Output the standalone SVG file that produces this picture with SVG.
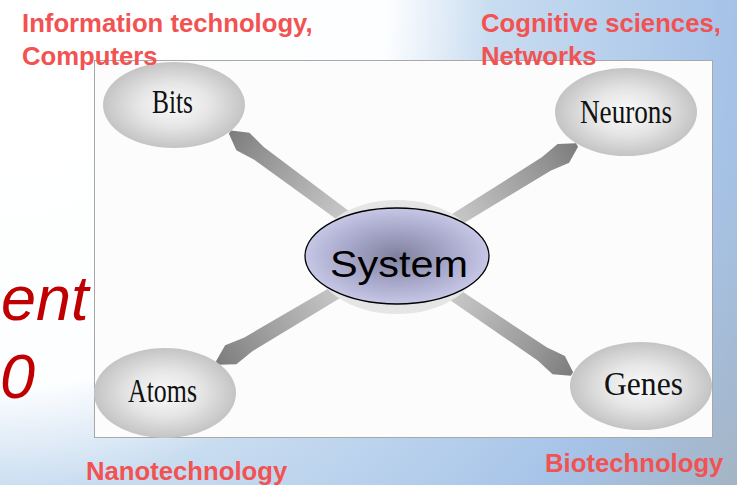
<svg xmlns="http://www.w3.org/2000/svg" width="737" height="485" viewBox="0 0 737 485">
<defs>
<radialGradient id="bg" gradientUnits="userSpaceOnUse" cx="0" cy="0" r="880">
<stop offset="0" stop-color="#ffffff"/>
<stop offset="0.44" stop-color="#fdfeff"/>
<stop offset="0.56" stop-color="#c8dcf0"/>
<stop offset="0.83" stop-color="#a6c3e8"/>
<stop offset="1" stop-color="#a4b4c4"/>
</radialGradient>
<radialGradient id="node" cx="0.5" cy="0.5" r="0.5">
<stop offset="0" stop-color="#fafafa"/>
<stop offset="0.5" stop-color="#e6e6e6"/>
<stop offset="1" stop-color="#c4c4c4"/>
</radialGradient>
<radialGradient id="sys" cx="0.5" cy="0.5" r="0.5">
<stop offset="0" stop-color="#80809e"/>
<stop offset="0.6" stop-color="#aaaacc"/>
<stop offset="1" stop-color="#c6c6e6"/>
</radialGradient>
<radialGradient id="shadow" cx="0.5" cy="0.5" r="0.5">
<stop offset="0" stop-color="#d8d8d8"/>
<stop offset="1" stop-color="#e6e6e6"/>
</radialGradient>
<linearGradient id="arr" x1="0" y1="0" x2="1" y2="0">
<stop offset="0" stop-color="#7c7c7c"/>
<stop offset="0.2" stop-color="#949494"/>
<stop offset="1" stop-color="#e2e2e2"/>
</linearGradient>
<path id="arrow" d="M0,-2 L16,-11 L36,-8 L195,-6.5 L195,6.5 L36,8 L16,11 L0,2 Z" fill="url(#arr)"/>
</defs>
<style>
.lab{font-family:"Liberation Sans",Arial,sans-serif;font-weight:bold;font-size:25.7px;fill:#f25252}
.big{font-family:"Liberation Sans",Arial,sans-serif;font-style:italic;font-size:63px;fill:#c00000}
.nt{font-family:"Liberation Serif","Times New Roman",serif;font-size:34px;fill:#111}
.st{font-family:"Liberation Sans",Arial,sans-serif;font-size:37px;fill:#000}
</style>
<rect x="0" y="0" width="737" height="485" fill="url(#bg)"/>
<text class="big" x="1" y="320">ent</text>
<text class="big" x="0" y="398">0</text>
<rect x="94.5" y="60.5" width="618" height="377" fill="#fcfcfc" stroke="#a8a8a8" stroke-width="1"/>
<g id="connectors">
<use href="#arrow" transform="translate(230,132) rotate(36.4)"/>
<use href="#arrow" transform="translate(577,145) rotate(148.3)"/>
<use href="#arrow" transform="translate(217,363) rotate(-30.7)"/>
<use href="#arrow" transform="translate(572,374) rotate(-146)"/>
</g>
<g id="system">
<ellipse cx="397" cy="257" rx="84" ry="57" fill="url(#shadow)"/>
<ellipse cx="397" cy="256" rx="92" ry="48" fill="url(#sys)" stroke="#000" stroke-width="1.3"/>
<text class="st" x="399" y="277" text-anchor="middle" textLength="138" lengthAdjust="spacingAndGlyphs">System</text>
</g>
<g id="bits">
<ellipse cx="174" cy="105" rx="71" ry="43" fill="url(#node)"/>
<text class="nt" x="152" y="113" textLength="41" lengthAdjust="spacingAndGlyphs">Bits</text>
</g>
<g id="neurons">
<ellipse cx="626" cy="112" rx="71" ry="44" fill="url(#node)"/>
<text class="nt" x="580" y="123" textLength="92" lengthAdjust="spacingAndGlyphs">Neurons</text>
</g>
<g id="atoms">
<ellipse cx="165" cy="393" rx="71" ry="45" fill="url(#node)"/>
<text class="nt" x="128" y="402" textLength="69" lengthAdjust="spacingAndGlyphs">Atoms</text>
</g>
<g id="genes">
<ellipse cx="641" cy="386" rx="71" ry="44" fill="url(#node)"/>
<text class="nt" x="604" y="395" textLength="79" lengthAdjust="spacingAndGlyphs">Genes</text>
</g>
<text class="lab" x="22" y="32">Information technology,</text>
<text class="lab" x="22" y="65">Computers</text>
<text class="lab" x="481" y="32">Cognitive sciences,</text>
<text class="lab" x="481" y="65">Networks</text>
<text class="lab" x="86" y="480">Nanotechnology</text>
<text class="lab" x="545" y="472">Biotechnology</text>
</svg>
